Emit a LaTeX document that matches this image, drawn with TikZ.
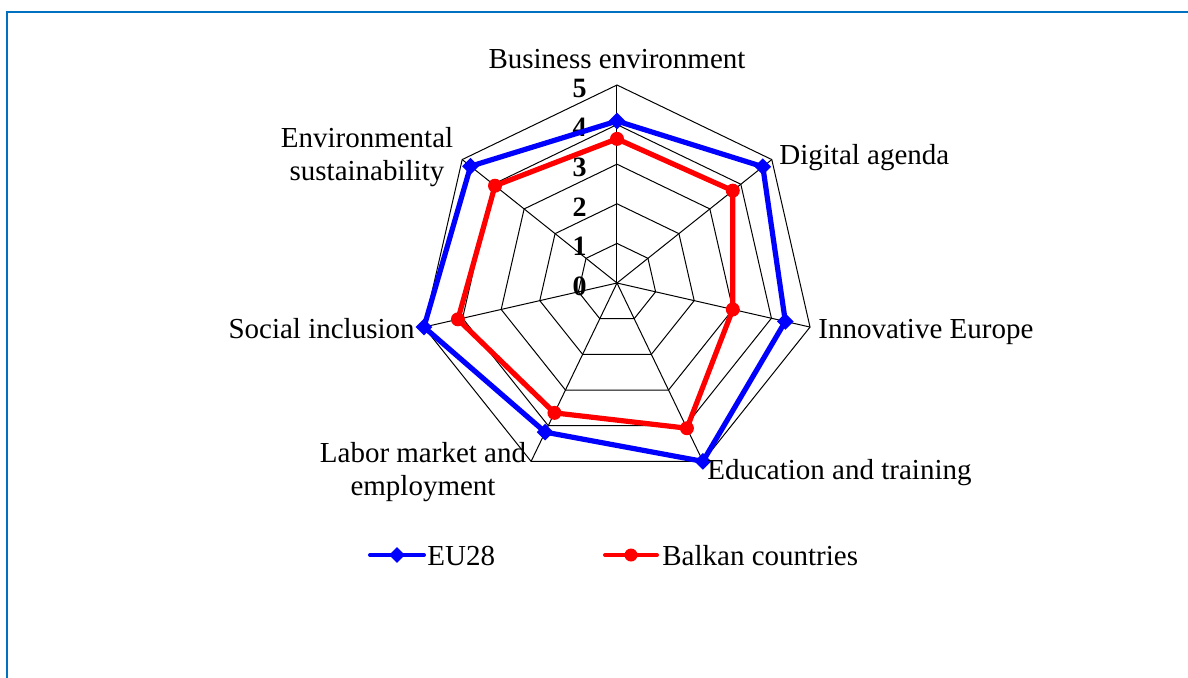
\documentclass[tikz,border=0pt]{standalone}
\usepackage{fontspec}
\setmainfont{Liberation Serif}
\usepackage{xcolor}
\usetikzlibrary{positioning, calc, shapes.geometric}

\definecolor{framecol}{RGB}{0,112,192}
\def\rr{39.6}

\tikzset{
    gridline/.style={black, line width=0.5pt},
    euline/.style={blue, line width=2.6pt},
    bkline/.style={red, line width=2.6pt},
    eumark/.style={diamond, fill=blue, inner sep=0pt, minimum size=8.5pt},
    bkmark/.style={circle, fill=red, inner sep=0pt, minimum size=7pt},
    axislabel/.style={font=\fontsize{14.5}{16.5}\selectfont, inner sep=0pt},
    ticklabel/.style={font=\fontsize{14}{16}\selectfont\bfseries, anchor=east, inner sep=0pt},
}

\begin{document}
\begin{tikzpicture}[x=0.5pt, y=0.5pt]
    \useasboundingbox (-617,-394) rectangle (571,283);
    \draw[framecol, line width=1pt] (-610,-420) -- (-610,271) -- (600,271);

    \coordinate (c) at (0,0);
    \foreach \k in {1,...,5}
      \draw[gridline] (90:{\k*\rr}) \foreach \i in {1,...,6} { -- ({90-\i*360/7}:{\k*\rr}) } -- cycle;
    \foreach \i in {0,...,6}
      \draw[gridline] (c) -- ({90-\i*360/7}:{5*\rr});

    \foreach \k in {0,...,5}
      \node[ticklabel] (tick\k) at (-30,{\k*\rr-3}) {\k};

    \foreach \v [count=\i] in {4.09, 4.71, 4.36, 5.0, 4.18, 5.0, 4.73}
      \coordinate (e\i) at ({90-(\i-1)*360/7}:{\v*\rr});
    \foreach \v [count=\i] in {3.64, 3.74, 3.0, 4.07, 3.64, 4.12, 3.94}
      \coordinate (b\i) at ({90-(\i-1)*360/7}:{\v*\rr});

    \draw[bkline] (b1) -- (b2) -- (b3) -- (b4) -- (b5) -- (b6) -- (b7) -- cycle;
    \draw[euline] (e1) -- (e2) -- (e3) -- (e4) -- (e5) -- (e6) -- (e7) -- cycle;
    \foreach \i in {1,...,7} {
      \node[bkmark] (bm\i) at (b\i) {};
      \node[eumark] (em\i) at (e\i) {};
    }

    \node[axislabel, anchor=base] (business) at (0,215) {Business environment};
    \node[axislabel, anchor=base west] (digital) at (162,119) {Digital agenda};
    \node[axislabel, anchor=base west] (innovative) at (201,-55) {Innovative Europe};
    \node[axislabel, anchor=base west] (education) at (90,-196) {Education and training};
    \node[axislabel, anchor=base, align=center] (labor) at (-194,-212) {Labor market and\\employment};
    \node[axislabel, anchor=base east] (social) at (-202,-55) {Social inclusion};
    \node[axislabel, anchor=base, align=center] (environment) at (-250,103) {Environmental\\sustainability};

    \coordinate (eukeyA) at (-247,-272);
    \coordinate (eukeyB) at (-193,-272);
    \draw[blue, line width=2pt, line cap=round] (eukeyA) -- (eukeyB);
    \node[eumark, minimum size=8pt] (eukey) at ($(eukeyA)!0.5!(eukeyB)$) {};
    \node[axislabel, anchor=base west] (eutext) at (-190,-282) {EU28};

    \coordinate (bkkeyA) at (-12,-272);
    \coordinate (bkkeyB) at (40,-272);
    \draw[red, line width=2pt, line cap=round] (bkkeyA) -- (bkkeyB);
    \node[bkmark, minimum size=6.5pt] (bkkey) at ($(bkkeyA)!0.5!(bkkeyB)$) {};
    \node[axislabel, anchor=base west] (bktext) at (45,-282) {Balkan countries};
\end{tikzpicture}
\end{document}
